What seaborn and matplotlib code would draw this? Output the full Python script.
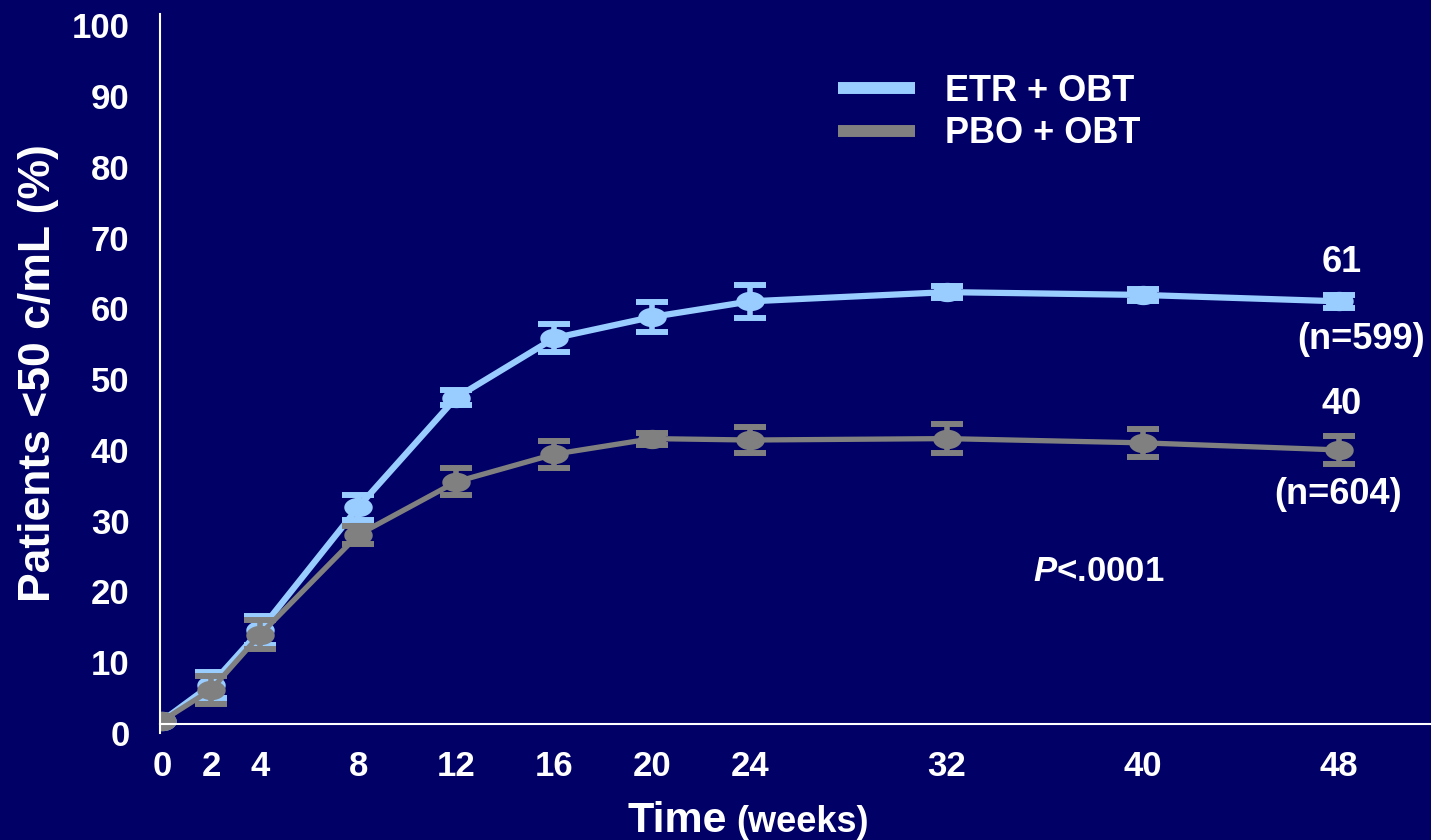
import numpy as np
import pandas as pd
import matplotlib
matplotlib.use("Agg")
import matplotlib.pyplot as plt
from matplotlib.path import Path
from matplotlib.lines import Line2D
import seaborn as sns

# ---- data -------------------------------------------------------------
weeks = [0, 2, 4, 8, 12, 16, 20, 24, 32, 40, 48]
week_labels = ["0", "2", "4", "8", "12", "16", "20", "24", "32", "40", "48"]

etr = [1.7, 6.8, 14.5, 31.9, 47.4, 55.8, 58.8, 61.0, 62.3, 61.9, 61.0]
etr_err = [0.0, 1.8, 2.0, 1.8, 1.0, 2.0, 2.1, 2.3, 0.9, 0.9, 0.9]

pbo = [1.7, 6.1, 13.9, 28.0, 35.5, 39.4, 41.6, 41.4, 41.6, 41.0, 40.0]
pbo_err = [0.0, 2.0, 2.0, 1.3, 1.9, 1.9, 0.85, 1.9, 2.1, 2.0, 2.0]

series_names = ["ETR + OBT", "PBO + OBT"]
n_labels = ["(n=599)", "(n=604)"]
y_ticks = [0, 10, 20, 30, 40, 50, 60, 70, 80, 90, 100]
p_value = "<.0001"

# ---- style ------------------------------------------------------------
NAVY = "#000066"
LIGHT_BLUE = "#99CCFF"
GREY = "#808080"
WHITE = "#FFFFFF"

sns.set_style("white", rc={"axes.facecolor": NAVY, "figure.facecolor": NAVY})
plt.rcParams["font.family"] = ["Liberation Sans", "DejaVu Sans"]
plt.rcParams["font.weight"] = "bold"
plt.rcParams["mathtext.fontset"] = "custom"
plt.rcParams["mathtext.it"] = "Liberation Sans:italic:bold"
plt.rcParams["mathtext.rm"] = "Liberation Sans:bold"

fig = plt.figure(figsize=(14.31, 8.40), dpi=100, facecolor=NAVY)
ax = fig.add_axes([0.1118, 0.12738, 0.8882, 0.85595])
ax.set_facecolor(NAVY)

df = pd.concat([
    pd.DataFrame({"week": weeks, "pct": etr, "err": etr_err, "arm": series_names[0]}),
    pd.DataFrame({"week": weeks, "pct": pbo, "err": pbo_err, "arm": series_names[1]}),
], ignore_index=True)

# oval marker shared by both arms
theta = np.linspace(0, 2 * np.pi, 60)
oval = Path(np.column_stack([np.cos(theta), 0.68 * np.sin(theta)]), closed=True)

styles = {
    series_names[0]: dict(color=LIGHT_BLUE, lw=4.5, z=3),
    series_names[1]: dict(color=GREY, lw=3.8, z=5),
}

for arm in series_names:
    st = styles[arm]
    sub = df[df["arm"] == arm]
    sns.lineplot(data=sub, x="week", y="pct", ax=ax, color=st["color"],
                 linewidth=st["lw"], marker=oval, markersize=20.5,
                 markeredgewidth=0, markerfacecolor=st["color"],
                 legend=False, zorder=st["z"], errorbar=None)
    bars = sub[sub["week"] > 0]
    ax.errorbar(bars["week"], bars["pct"], yerr=bars["err"], fmt="none",
                ecolor=st["color"], elinewidth=4.0, capsize=11.2,
                capthick=4.3, zorder=st["z"] + 0.5)

# ---- axes -------------------------------------------------------------
ax.set_xlim(-0.08, 51.75)
ax.set_ylim(0, 101.6)
ax.spines["bottom"].set_position(("data", 1.3))
for side in ("top", "right"):
    ax.spines[side].set_visible(False)
for side in ("left", "bottom"):
    ax.spines[side].set_color(WHITE)
    ax.spines[side].set_linewidth(1.5)
    ax.spines[side].set_zorder(6)

ax.set_xticks(weeks)
ax.set_xticklabels(week_labels)
ax.set_yticks(y_ticks)
ax.set_yticklabels([str(v) for v in y_ticks])
ax.tick_params(axis="x", length=0, pad=19, labelsize=25, labelcolor=WHITE)
ax.tick_params(axis="y", length=16, width=1.5, direction="out", color=WHITE,
               pad=6, labelsize=25, labelcolor=WHITE)
ax.yaxis.get_major_ticks()[0].tick1line.set_visible(False)
for lab in ax.get_xticklabels() + ax.get_yticklabels():
    lab.set_fontweight("bold")
ax.set_xlabel("")
ax.set_ylabel("")
ax.grid(False)

# axis titles
fig.text(39 / 1431, 1 - 373 / 840, "Patients <50 c/mL (%)", rotation=90,
         ha="center", va="center", fontsize=32, fontweight="bold", color=WHITE)
fig.text(727 / 1431, 1 - 832 / 840, "Time", ha="right", va="baseline",
         fontsize=31, fontweight="bold", color=WHITE)
fig.text(736 / 1431, 1 - 832 / 840, "(weeks)", ha="left", va="baseline",
         fontsize=26, fontweight="bold", color=WHITE)

# ---- legend -----------------------------------------------------------
handles = [Line2D([], [], color=styles[a]["color"], linewidth=8.6,
                  solid_capstyle="butt") for a in series_names]
leg = ax.legend(handles, series_names, loc="upper left",
                bbox_to_anchor=(838 / 1431, 1 - 74 / 840),
                bbox_transform=fig.transFigure, frameon=False, fontsize=26,
                handlelength=2.14, handletextpad=0.83, labelspacing=0.2,
                borderpad=0, borderaxespad=0)
for t in leg.get_texts():
    t.set_color(WHITE)
    t.set_fontweight("bold")

# ---- end-point annotations ---------------------------------------------
ends = [(weeks[-1], etr[-1], n_labels[0], 39, 38, 22),
        (weeks[-1], pbo[-1], n_labels[1], 45, 45, -1)]
for x, y, nlab, up, down, dx in ends:
    ax.annotate(f"{y:.0f}", xy=(x, y), xytext=(3, up), textcoords="offset pixels",
                ha="center", va="center", fontsize=26, fontweight="bold",
                color=WHITE, annotation_clip=False)
    ax.annotate(nlab, xy=(x, y), xytext=(dx, -down), textcoords="offset pixels",
                ha="center", va="center", fontsize=26, fontweight="bold",
                color=WHITE, annotation_clip=False)

ax.text(38.2, 22.8, r"$\mathit{P}$" + p_value, ha="center", va="center",
        fontsize=25, fontweight="bold", color=WHITE)

fig.savefig("out.png", dpi=100, facecolor=NAVY)
